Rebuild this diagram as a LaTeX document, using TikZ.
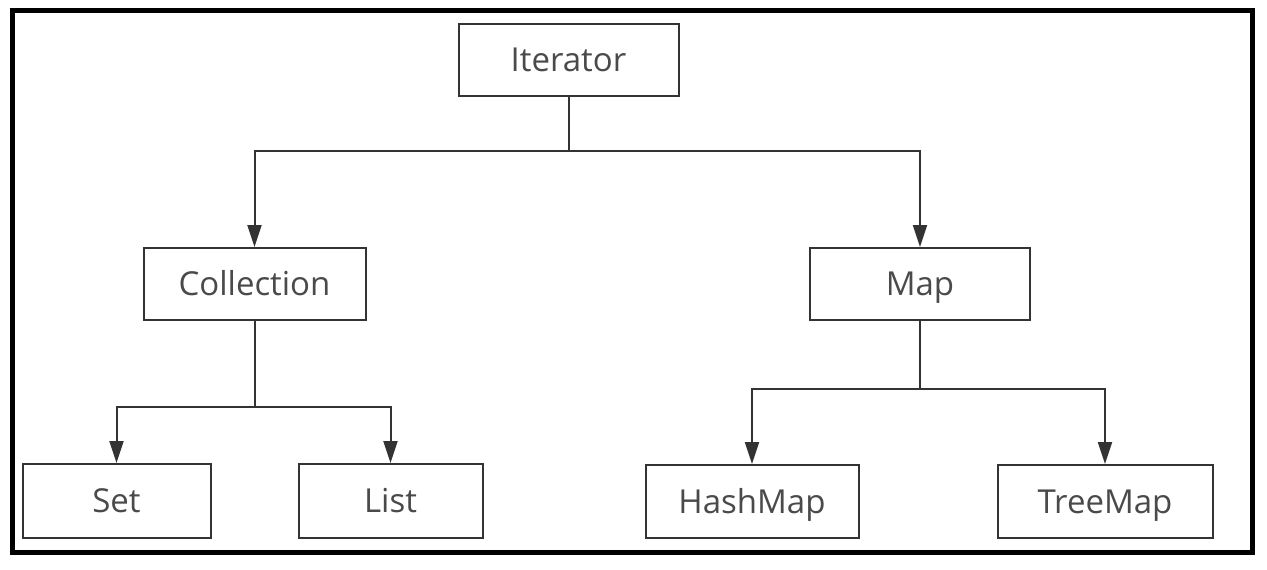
\documentclass[tikz,border=0pt]{standalone}
\usepackage{fontspec}
\setmainfont{Open Sans}
\usetikzlibrary{arrows.meta}
\definecolor{boxc}{HTML}{333333}
\definecolor{linec}{HTML}{333333}
\definecolor{textc}{HTML}{4A4A4A}
\begin{document}
\begin{tikzpicture}[x=1pt,y=-1pt,
  box/.style={draw=boxc, line width=2pt, minimum height=72pt, inner sep=0pt,
              font=\fontsize{33}{38}\selectfont, text=textc,
              text height=23.6pt, text depth=0pt},
  link/.style={draw=linec, line width=2pt},
  arr/.style={link, -{Triangle[length=22pt,width=14pt]}}]
\useasboundingbox (0,0) rectangle (1267,570);
\fill[white] (0,0) rectangle (1267,570);
\draw[line width=5pt, black] (12,10.5) rectangle (1252,552.5);

\node[box, minimum width=220pt] (it) at (568.5,60) {Iterator};
\node[box, minimum width=222pt] (coll) at (254.5,284) {Collection};
\node[box, minimum width=220pt] (map) at (920,284) {Map};
\node[box, minimum width=188pt, minimum height=74pt] (set) at (116.5,501) {Set};
\node[box, minimum width=184pt, minimum height=74pt] (list) at (390.5,501) {List};
\node[box, minimum width=213pt, minimum height=73pt] (hash) at (752,501.5) {HashMap};
\node[box, minimum width=215pt, minimum height=73pt] (tree) at (1105,501.5) {TreeMap};

\coordinate (j1) at (568.5,151);
\coordinate (j2) at (254.5,407);
\coordinate (j3) at (920,389);

\draw[link] (it.south) -- (j1);
\draw[arr] (j1) -| (coll.north);
\draw[arr] (j1) -| (map.north);

\draw[link] (coll.south) -- (j2);
\draw[arr] (j2) -| (set.north);
\draw[arr] (j2) -| (list.north);

\draw[link] (map.south) -- (j3);
\draw[arr] (j3) -| (hash.north);
\draw[arr] (j3) -| (tree.north);
\end{tikzpicture}
\end{document}
